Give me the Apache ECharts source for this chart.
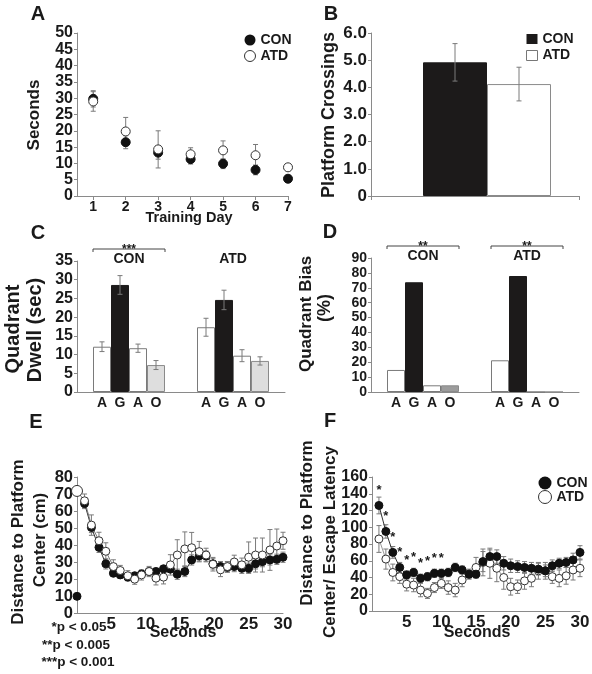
<!DOCTYPE html>
<html><head><meta charset="utf-8">
<script src="https://cdn.jsdelivr.net/npm/echarts@6/dist/echarts.min.js"></script>
<style>html,body{margin:0;padding:0;background:#fff}#c{width:592px;height:674px}</style>
</head><body><div id="c"></div>
<script>
// ---------------- DATA ----------------
// Panel A: escape latency per training day
const days = [1, 2, 3, 4, 5, 6, 7];
const aCon = [29.8, 16.5, 13.3, 11.3, 9.9, 8.0, 5.3];
const aConErr = [2.5, 2.0, 2.0, 1.5, 1.5, 1.5, 1.0];
const aAtd = [29.0, 19.8, 14.3, 12.8, 14.0, 12.5, 8.8];
const aAtdErr = [3.0, 4.3, 5.7, 2.0, 2.9, 3.3, 1.0];
const aYTicks = [0, 5, 10, 15, 20, 25, 30, 35, 40, 45, 50];

// Panel B: platform crossings
const bGroups = ['CON', 'ATD'];
const bVals = [4.92, 4.12];
const bErr = [0.69, 0.62];
const bYTicks = [0, 1, 2, 3, 4, 5, 6];

// Panel C: quadrant dwell (sec)
const quadrants = ['A', 'G', 'A', 'O'];
const groups = ['CON', 'ATD'];
const cCon = [12.1, 28.6, 11.7, 7.2];
const cConErr = [1.3, 2.5, 1.1, 1.2];
const cAtd = [17.3, 24.6, 9.7, 8.3];
const cAtdErr = [2.4, 2.6, 1.6, 1.1];
const cSig = ['***', ''];
const cYTicks = [0, 5, 10, 15, 20, 25, 30, 35];

// Panel D: quadrant bias (%)
const dCon = [14.8, 73.7, 4.5, 4.5];
const dAtd = [21.3, 77.9, 0, 0];
const dSig = ['**', '**'];
const dYTicks = [0, 10, 20, 30, 40, 50, 60, 70, 80, 90];

// Panel E: distance to platform center (cm)
const eSec = [0, 1.1, 2.1, 3.2, 4.2, 5.3, 6.3, 7.4, 8.4, 9.4, 10.5, 11.5, 12.6, 13.6, 14.6,
  15.7, 16.7, 17.8, 18.8, 19.8, 20.9, 21.9, 22.9, 24.0, 25.0, 26.0, 27.0, 28.1, 29.1, 30.0];
const eCon = [9.8, 64.4, 50.3, 38.6, 28.9, 23.4, 22.4, 21.1, 21.9, 23.0, 24.4, 24.4, 26.0, 25.8, 22.8,
  24.4, 31.2, 33.6, 33.5, 28.9, 27.3, 26.9, 27.3, 26.3, 26.3, 28.9, 30.2, 31.2, 31.6, 32.8];
const eConErr = [0, 3, 3, 3, 3, 2, 2, 2, 2, 2, 2, 2, 2, 2, 3, 3, 3, 3, 3, 3, 3, 3, 3, 3, 3, 3, 3, 3, 3, 3];
const eAtd = [71.8, 66.0, 51.7, 42.5, 36.3, 27.3, 25.0, 21.9, 19.9, 22.4, 24.4, 20.5, 21.1, 28.3, 34.1,
  37.7, 38.4, 36.1, 34.1, 28.7, 25.4, 27.3, 30.0, 28.3, 32.8, 34.1, 34.1, 37.1, 39.4, 42.5];
const eAtdErr = [0, 4, 6, 5, 5, 4, 3, 3, 3, 3, 3, 4, 4, 6, 9, 10, 9, 6, 4, 4, 4, 3, 4, 4, 9, 10, 10, 12, 10, 5];
const eXTicks = [0, 5, 10, 15, 20, 25, 30];
const eYTicks = [0, 10, 20, 30, 40, 50, 60, 70, 80];
const pNotes = ['*p < 0.05', '**p < 0.005', '***p < 0.001'];

// Panel F: distance to platform center / escape latency
const fSec = [1, 2, 3, 4, 5, 6, 7, 8, 9, 10, 11, 12, 13, 14, 15, 16, 17, 18, 19, 20, 21, 22, 23, 24, 25, 26, 27, 28, 29, 30];
const fCon = [126, 95, 70, 52, 43, 46, 39, 41, 45, 45, 46, 52, 49, 44, 44, 59, 65, 65, 57, 54, 53, 52, 51, 50, 48, 54, 57, 58, 61, 70];
const fConErr = [10, 8, 7, 6, 5, 5, 5, 5, 5, 5, 5, 5, 5, 5, 5, 12, 8, 8, 8, 8, 7, 7, 7, 7, 7, 7, 6, 6, 8, 8];
const fAtd = [86, 62, 46, 41, 32, 31, 25, 21, 28, 33, 28, 25, 37, 44, 52, 58, 57, 51, 40, 29, 29, 36, 39, 48, 48, 41, 39, 42, 49, 51];
const fAtdErr = [16, 12, 10, 8, 8, 8, 8, 6, 6, 6, 8, 8, 8, 6, 12, 16, 18, 16, 14, 10, 8, 10, 10, 10, 10, 8, 10, 10, 12, 10];
const fSig = ['*', '*', '*', '*', '*', '*', '*', '*', '*', '*', '', '', '', '', '', '', '', '', '', '', '', '', '', '', '', '', '', '', '', ''];
const fXTicks = [0, 5, 10, 15, 20, 25, 30];
const fYTicks = [0, 20, 40, 60, 80, 100, 120, 140, 160];

// ---------------- STYLE ----------------
const FONT = '"Liberation Sans", Arial, Helvetica, sans-serif';
const AX = '#8a8a8a';
const TXT = '#1a1a1a';
const ERR = '#7a7a7a';
const BW = 18;           // bar width C / D

function tickRange(t) { return { min: t[0], max: t[t.length - 1], interval: t[1] - t[0] }; }

function yAx(grid, ticks, fs, fmt) {
  const r = tickRange(ticks);
  return {
    type: 'value', gridIndex: grid, min: r.min, max: r.max, interval: r.interval,
    axisLine: { show: true, lineStyle: { color: AX, width: 1 } },
    axisTick: { show: true, length: 3, lineStyle: { color: AX } },
    splitLine: { show: false },
    axisLabel: { show: true, color: TXT, fontFamily: FONT, fontWeight: 'bold', fontSize: fs, lineHeight: 11, margin: 4,
      hideOverlap: false, showMinLabel: true, showMaxLabel: true, formatter: fmt || '{value}' }
  };
}
function xVal(grid, ticks, fs) {
  const r = tickRange(ticks);
  return {
    type: 'value', gridIndex: grid, min: r.min, max: r.max, interval: r.interval,
    axisLine: { show: true, onZero: false, lineStyle: { color: AX, width: 1 } },
    axisTick: { show: false },
    splitLine: { show: false },
    axisLabel: { show: true, color: TXT, fontFamily: FONT, fontWeight: 'bold', fontSize: fs, margin: 3,
      hideOverlap: false, showMinLabel: true, showMaxLabel: true,
      formatter: v => (v === 0 ? '' : String(v)) }
  };
}
function xCat(grid, data, ticks) {
  return {
    type: 'category', gridIndex: grid, data: data, boundaryGap: true,
    axisLine: { show: true, onZero: false, lineStyle: { color: AX, width: 1 } },
    axisTick: { show: ticks, length: 4, lineStyle: { color: AX } },
    axisLabel: { show: false }, splitLine: { show: false }
  };
}

function errSeries(gi, pts, z) {
  return {
    type: 'custom', coordinateSystem: 'cartesian2d', xAxisIndex: gi, yAxisIndex: gi, silent: true, z: z || 2,
    clip: false, encode: { x: 0, y: 1 },
    data: pts,
    renderItem: function (params, api) {
      const e = api.value(2);
      if (!e) return null;
      const off = api.value(3) || 0;
      const t = api.coord([api.value(0), api.value(1) + e]);
      const b = api.coord([api.value(0), api.value(1) - e]);
      const x = t[0] + off, w = 2.5;
      const st = { stroke: ERR, lineWidth: 1 };
      return { type: 'group', children: [
        { type: 'line', shape: { x1: x, y1: t[1], x2: x, y2: b[1] }, style: st },
        { type: 'line', shape: { x1: x - w, y1: t[1], x2: x + w, y2: t[1] }, style: st },
        { type: 'line', shape: { x1: x - w, y1: b[1], x2: x + w, y2: b[1] }, style: st }
      ] };
    }
  };
}
function scatter(name, gi, pts, size, fill, border, z, extra) {
  return Object.assign({
    type: 'scatter', name: name, xAxisIndex: gi, yAxisIndex: gi, data: pts, symbol: 'circle',
    symbolSize: size, z: z, clip: false, silent: true,
    itemStyle: { color: fill, borderColor: border, borderWidth: 1, opacity: 1 },
    emphasis: { disabled: true }
  }, extra || {});
}
function line(gi, pts, color, z) {
  return { type: 'line', xAxisIndex: gi, yAxisIndex: gi, data: pts, symbol: 'none', showSymbol: false,
    lineStyle: { color: color, width: 1 }, z: z, silent: true, clip: false, emphasis: { disabled: true } };
}
function txt(s, x, y, fs, rot, extra) {
  return Object.assign({ type: 'text', x: x, y: y, rotation: rot ? Math.PI / 2 : 0, silent: true,
    style: { text: s, fill: TXT, fontFamily: FONT, fontWeight: 'bold', fontSize: fs,
      textAlign: 'center', textVerticalAlign: 'middle', align: 'center', verticalAlign: 'middle' } }, extra || {});
}
function annoSeries(gi, sig, yTop) {
  return {
    type: 'custom', coordinateSystem: 'cartesian2d', xAxisIndex: gi, yAxisIndex: gi, silent: true, z: 6, clip: false,
    data: groups.map((g, i) => [i, yTop]),
    renderItem: function (params, api) {
      const i = params.dataIndex;
      const p = api.coord([api.value(0), api.value(1)]);
      const cx = p[0], top = p[1];
      const base = { fill: TXT, fontFamily: FONT, fontWeight: 'bold', textAlign: 'center', textVerticalAlign: 'middle', align: 'center', verticalAlign: 'middle' };
      const ch = [{ type: 'text', x: cx, y: top - 2, style: Object.assign({ text: groups[i], fontSize: 14 }, base) }];
      if (sig[i]) {
        const yb = top - 12, x1 = cx - 2 * BW, x2 = cx + 2 * BW;
        ch.push({ type: 'polyline', shape: { points: [[x1, yb + 3], [x1, yb], [x2, yb], [x2, yb + 3]] },
          style: { stroke: '#444', lineWidth: 1, fill: null } });
        ch.push({ type: 'text', x: cx, y: yb + 1, style: Object.assign({ text: sig[i], fontSize: 12 }, base) });
      }
      return { type: 'group', children: ch };
    }
  };
}
function quadBars(gi, con, atd, colors, borders) {
  return quadrants.map((q, k) => ({
    type: 'bar', name: q, xAxisIndex: gi, yAxisIndex: gi, data: [con[k], atd[k]],
    barWidth: BW, barGap: '0%', silent: true, z: 2,
    itemStyle: { color: colors[k], borderColor: borders[k], borderWidth: 1 },
    label: { show: true, position: 'bottom', distance: 4, formatter: () => q,
      color: TXT, fontFamily: FONT, fontWeight: 'bold', fontSize: 14 },
    emphasis: { disabled: true }
  }));
}

// ---------------- SERIES ----------------
const series = [];
// A
series.push(errSeries(0, days.map((d, i) => [d, aCon[i], aConErr[i]])));
series.push(errSeries(0, days.map((d, i) => [d, aAtd[i], aAtdErr[i]])));
series.push(scatter('CON', 0, days.map((d, i) => [d, aCon[i]]), 9, '#111', '#111', 3));
series.push(scatter('ATD', 0, days.map((d, i) => [d, aAtd[i]]), 9, '#fff', '#333', 4));
// B
series.push({ type: 'bar', name: '', xAxisIndex: 1, yAxisIndex: 1, data: [null], barWidth: 24, barGap: '0%', silent: true });
bGroups.forEach((g, i) => {
  series.push({ type: 'bar', name: g, xAxisIndex: 1, yAxisIndex: 1, data: [bVals[i]], barWidth: 64, barGap: '0%',
    silent: true, z: 2, emphasis: { disabled: true },
    itemStyle: i === 0 ? { color: '#1c1a1a', borderColor: '#1c1a1a', borderWidth: 1 } : { color: '#fff', borderColor: '#8a8a8a', borderWidth: 1 } });
});
series.push(errSeries(1, bGroups.map((g, i) => [0, bVals[i], bErr[i], i === 0 ? -20 : 44]), 5));
// C
quadBars(2, cCon, cAtd, ['#fff', '#1c1a1a', '#fff', '#dedede'], ['#7a7a7a', '#1c1a1a', '#7a7a7a', '#8a8a8a']).forEach(s => series.push(s));
const cErrPts = [];
groups.forEach((g, gi) => quadrants.forEach((q, k) => {
  const v = gi === 0 ? cCon[k] : cAtd[k], e = gi === 0 ? cConErr[k] : cAtdErr[k];
  cErrPts.push([gi, v, e, (k - 1.5) * BW]);
}));
series.push(errSeries(2, cErrPts, 5));
series.push(annoSeries(2, cSig, cYTicks[cYTicks.length - 1]));
// D
quadBars(3, dCon, dAtd, ['#fff', '#1c1a1a', '#fff', '#9c9c9c'], ['#7a7a7a', '#1c1a1a', '#7a7a7a', '#8a8a8a']).forEach(s => series.push(s));
series.push(annoSeries(3, dSig, dYTicks[dYTicks.length - 1]));
// E
series.push(errSeries(4, eSec.map((t, i) => [t, eCon[i], eConErr[i]])));
series.push(errSeries(4, eSec.map((t, i) => [t, eAtd[i], eAtdErr[i]])));
series.push(line(4, eSec.slice(1).map((t, i) => [t, eCon[i + 1]]), '#333', 3));
series.push(line(4, eSec.map((t, i) => [t, eAtd[i]]), '#777', 3));
series.push(scatter('CON', 4, eSec.map((t, i) => [t, eCon[i]]), 8, '#111', '#111', 4));
series.push(scatter('ATD', 4, eSec.map((t, i) => [t, eAtd[i]]), (v, p) => (p.dataIndex === 0 ? 11 : 8), '#fff', '#333', 5));
// F
series.push(errSeries(5, fSec.map((t, i) => [t, fAtd[i], fAtdErr[i]])));
series.push(errSeries(5, fSec.map((t, i) => [t, fCon[i], fConErr[i]])));
series.push(line(5, fSec.map((t, i) => [t, fAtd[i]]), '#999', 3));
series.push(line(5, fSec.map((t, i) => [t, fCon[i]]), '#333', 3));
series.push(scatter('ATD', 5, fSec.map((t, i) => [t, fAtd[i]]), 8, '#fff', '#333', 4));
series.push(scatter('CON', 5, fSec.map((t, i) => [t, fCon[i]]), 8, '#111', '#111', 5, {
  label: { show: true, position: 'top', distance: 4, formatter: p => fSig[p.dataIndex],
    color: TXT, fontFamily: FONT, fontWeight: 'bold', fontSize: 13 }
}));

// ---------------- OPTION ----------------
const legendText = { color: TXT, fontFamily: FONT, fontWeight: 'bold', fontSize: 14, lineHeight: 12 };
const option = {
  animation: false,
  backgroundColor: '#fff',
  grid: [
    { left: 77, top: 33, width: 211, height: 163, outerBoundsMode: 'none', containLabel: false },
    { left: 371, top: 33, width: 208, height: 163, outerBoundsMode: 'none', containLabel: false },
    { left: 77, top: 261, width: 208, height: 131, outerBoundsMode: 'none', containLabel: false },
    { left: 371, top: 258, width: 208, height: 134, outerBoundsMode: 'none', containLabel: false },
    { left: 77, top: 477, width: 206, height: 136, outerBoundsMode: 'none', containLabel: false },
    { left: 372, top: 477, width: 208, height: 134, outerBoundsMode: 'none', containLabel: false }
  ],
  xAxis: [
    {
      type: 'value', gridIndex: 0, min: 0.5, max: days[days.length - 1], interval: 0.5,
      axisLine: { show: true, onZero: false, lineStyle: { color: AX, width: 1 } },
      axisTick: { show: true, length: 4, customValues: days, lineStyle: { color: AX } },
      splitLine: { show: false },
      axisLabel: { show: true, customValues: days, color: TXT, fontFamily: FONT, fontWeight: 'bold', fontSize: 14, margin: 4,
        hideOverlap: false, formatter: v => (Number.isInteger(v) ? String(v) : '') }
    },
    xCat(1, [''], true),
    xCat(2, groups, false),
    xCat(3, groups, false),
    xVal(4, eXTicks, 17),
    xVal(5, fXTicks, 17)
  ],
  yAxis: [
    yAx(0, aYTicks, 16),
    yAx(1, bYTicks, 17, v => (v === 0 ? '0' : v.toFixed(1))),
    yAx(2, cYTicks, 16),
    yAx(3, dYTicks, 14),
    yAx(4, eYTicks, 16.5),
    yAx(5, fYTicks, 16)
  ],
  legend: [
    { left: 244, top: 33, orient: 'vertical', itemWidth: 11, itemHeight: 11, itemGap: 2, selectedMode: false,
      textStyle: legendText, padding: 0,
      data: [{ name: 'CON', icon: 'circle', itemStyle: { color: '#111', borderWidth: 0 } },
             { name: 'ATD', icon: 'circle', itemStyle: { color: '#fff', borderColor: '#333', borderWidth: 1 } }] },
    { left: 526, top: 32, orient: 'vertical', itemWidth: 11, itemHeight: 10, itemGap: 2.5, selectedMode: false,
      textStyle: legendText, padding: 0,
      data: [{ name: 'CON', icon: 'rect', itemStyle: { color: '#1c1a1a', borderWidth: 0 } },
             { name: 'ATD', icon: 'rect', itemStyle: { color: '#fff', borderColor: '#777', borderWidth: 1 } }] },
    { left: 538, top: 476, orient: 'vertical', itemWidth: 13, itemHeight: 13, itemGap: 0, selectedMode: false,
      textStyle: Object.assign({}, legendText, { lineHeight: 13 }), padding: 0,
      data: [{ name: 'CON', icon: 'circle', itemStyle: { color: '#111', borderWidth: 0 } },
             { name: 'ATD', icon: 'circle', itemStyle: { color: '#fff', borderColor: '#333', borderWidth: 1 } }] }
  ],
  graphic: { elements: [
    txt('A', 38, 14, 20), txt('B', 331, 14, 20), txt('C', 38, 233, 20),
    txt('D', 330, 232, 20), txt('E', 36, 422, 20), txt('F', 330, 421, 20),
    txt('Seconds', 34, 115, 17, true),
    txt('Training Day', 189, 218, 14.5),
    txt('Platform Crossings', 329, 115, 18, true),
    txt('Quadrant', 13, 329, 20, true),
    txt('Dwell (sec)', 35, 330, 20, true),
    txt('Quadrant Bias', 306, 314, 17, true),
    txt('(%)', 325, 308, 18, true),
    txt('Distance to Platform', 18, 542, 17, true),
    txt('Center (cm)', 40, 540, 17, true),
    txt('Seconds', 183, 633, 16),
    txt(pNotes[0], 79, 627, 13.5),
    txt(pNotes[1], 76, 645, 13.5),
    txt(pNotes[2], 78, 662, 13.5),
    txt('Distance to Platform', 307, 523, 17, true),
    txt('Center/ Escape Latency', 330, 542, 17, true),
    txt('Seconds', 477, 633, 16)
  ] },
  series: series
};
const chart = echarts.init(document.getElementById('c'), null, { renderer: 'canvas', width: 592, height: 674 });
chart.setOption(option);
</script>
</body></html>
